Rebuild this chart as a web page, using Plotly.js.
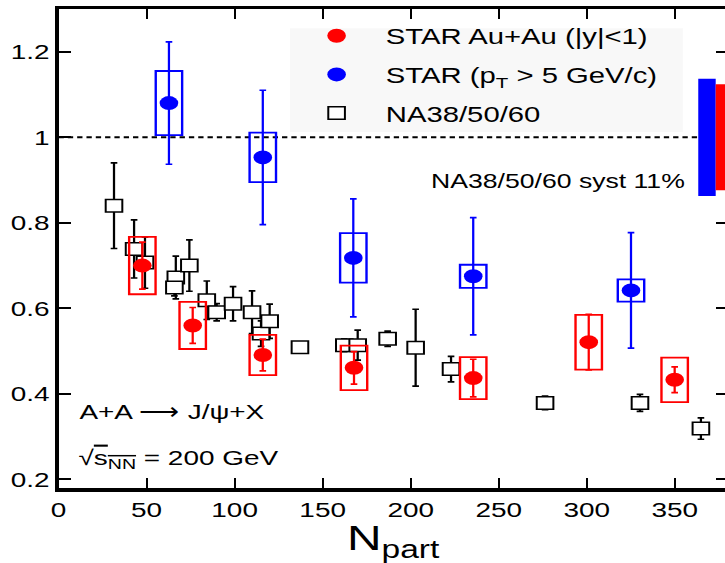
<!DOCTYPE html>
<html>
<head>
<meta charset="utf-8">
<script src="https://cdn.plot.ly/plotly-3.0.1.min.js"></script>
<style>
  html, body { margin: 0; padding: 0; overflow: hidden; background: #fff; }
  #wrap { width: 547px; height: 563px; transform: scaleX(1.3303); transform-origin: 0 0; }
</style>
</head>
<body>
<div id="wrap"><div id="chart" style="width:547px;height:563px;"></div></div>
<script>
// NA38/50/60
const naNpart = [31.5, 42.9, 49.1, 66.6, 65.8, 74.3, 84.2, 89.8, 99.1, 109.9, 115, 119.9, 137.1, 162.3, 169.9, 186.9, 202.8, 222.9, 276.3, 330.2, 364.8];
const naRatio = [0.840, 0.739, 0.707, 0.672, 0.649, 0.700, 0.619, 0.591, 0.611, 0.591, 0.541, 0.570, 0.509, 0.514, 0.514, 0.529, 0.508, 0.458, 0.379, 0.379, 0.319];
const naErr   = [0.10, 0.068, 0.06, 0.05, 0.02, 0.06, 0.045, 0.02, 0.04, 0.05, 0.03, 0.04, 0.01, 0.015, 0.035, 0.018, 0.09, 0.03, 0.016, 0.02, 0.025];

// STAR Au+Au (|y|<1)
const auNpart = [47.6, 76.2, 116, 167.8, 235.5, 301.1, 349.9];
const auRatio = [0.700, 0.560, 0.491, 0.461, 0.437, 0.521, 0.433];
const auStat  = [0.055, 0.042, 0.037, 0.038, 0.044, 0.065, 0.030];
const auSyst  = [0.067, 0.055, 0.047, 0.052, 0.049, 0.064, 0.052];

// STAR (pT > 5 GeV/c)
const hpNpart = [62.7, 116, 167.4, 235.5, 325.1];
const hpRatio = [1.080, 0.953, 0.718, 0.675, 0.642];
const hpStat  = [0.143, 0.157, 0.138, 0.137, 0.135];
const hpSyst  = [0.075, 0.058, 0.058, 0.027, 0.026];

// global normalisation uncertainties
const normHighPt = 0.137;
const normAuAu = 0.124;

const sysHalfWidth = 7.5;
const fontFam = '"Liberation Sans", Arial, Helvetica, sans-serif';
const RED = '#ff0000', BLUE = '#0000ff';

const shapes = [];
// faint legend background
shapes.push({type:'rect', xref:'paper', yref:'paper', x0:0.346, x1:0.933, y0:0.743, y1:0.960,
  line:{width:0}, fillcolor:'#f8f8f8', layer:'below'});
shapes.push({type:'line', xref:'x', yref:'y', x0:0, x1:363.3, y0:1, y1:1,
  line:{color:'black', width:2, dash:'4px,3px'}, layer:'below'});
auNpart.forEach((n,i)=>shapes.push({type:'rect', xref:'x', yref:'y',
  x0:n-sysHalfWidth, x1:n+sysHalfWidth, y0:auRatio[i]-auSyst[i], y1:auRatio[i]+auSyst[i],
  line:{color:RED, width:1.8}, fillcolor:'rgba(0,0,0,0)', layer:'above'}));
hpNpart.forEach((n,i)=>shapes.push({type:'rect', xref:'x', yref:'y',
  x0:n-sysHalfWidth, x1:n+sysHalfWidth, y0:hpRatio[i]-hpSyst[i], y1:hpRatio[i]+hpSyst[i],
  line:{color:BLUE, width:1.8}, fillcolor:'rgba(0,0,0,0)', layer:'above'}));
shapes.push({type:'rect', xref:'x', yref:'y', x0:363.3, x1:373.2, y0:1-normHighPt, y1:1+normHighPt,
  line:{width:0}, fillcolor:BLUE, layer:'above'});
shapes.push({type:'rect', xref:'x', yref:'y', x0:373.2, x1:383, y0:1-normAuAu, y1:1+normAuAu,
  line:{width:0}, fillcolor:RED, layer:'above'});

const traces = [
  {type:'scatter', mode:'markers', name:'NA38/50/60', x:naNpart, y:naRatio, legendrank:3,
   legendgroup:'c',
   error_y:{type:'data', array:naErr, visible:true, color:'black', thickness:1.7, width:2.5},
   marker:{symbol:'square', size:12.5, color:'white', line:{color:'black', width:1.5}}},
  {type:'scatter', mode:'markers', name:'STAR Au+Au (|y|&lt;1)', x:auNpart, y:auRatio, legendrank:1,
   legendgroup:'a',
   error_y:{type:'data', array:auStat, visible:true, color:RED, thickness:1.7, width:2.5},
   marker:{symbol:'circle', size:14, color:RED}},
  {type:'scatter', mode:'markers', name:'STAR (p<sub>T</sub> &gt; 5 GeV/c)', x:hpNpart, y:hpRatio, legendrank:2,
   legendgroup:'b',
   error_y:{type:'data', array:hpStat, visible:true, color:BLUE, thickness:1.7, width:2.5},
   marker:{symbol:'circle', size:14, color:BLUE}}
];

const layout = {
  width:547, height:563,
  margin:{l:44, r:0, t:9, b:75},
  paper_bgcolor:'white', plot_bgcolor:'white',
  font:{family:fontFam, color:'black', size:21},
  showlegend:true,
  legend:{x:0.342, y:0.9875, xanchor:'left', yanchor:'top', bgcolor:'rgba(0,0,0,0)', borderwidth:0,
          itemwidth:64, font:{size:22, family:fontFam}, tracegroupgap:7, traceorder:'grouped'},
  xaxis:{range:[0,380], dtick:50, tick0:0, ticks:'inside', ticklen:10, tickwidth:1.5, tickcolor:'black',
         showline:true, linewidth:3.5, linecolor:'black', mirror:'ticks', showgrid:false, zeroline:false,
         tickfont:{size:21}, title:{text:'N<sub>part</sub>', font:{size:36}, standoff:6}},
  yaxis:{range:[0.18,1.3], dtick:0.2, tick0:0.2, ticks:'inside', ticklen:9, tickwidth:2, tickcolor:'black',
         showline:true, linewidth:2.5, linecolor:'black', mirror:'ticks', showgrid:false, zeroline:false,
         tickfont:{size:21}},
  shapes:shapes,
  annotations:[
    {xref:'paper', yref:'paper', x:0.028, y:0.159, xanchor:'left', yanchor:'middle', showarrow:false,
     text:'A+A \u27f6 J/\u03c8+X', font:{size:21}},
    {xref:'paper', yref:'paper', x:0.026, y:0.06, xanchor:'left', yanchor:'middle', showarrow:false,
     text:'\u221a<span style="text-decoration:overline">s<sub>NN</sub></span> = 200 GeV', font:{size:21}},
    {xref:'paper', yref:'paper', x:0.941, y:0.6415, xanchor:'right', yanchor:'middle', showarrow:false,
     text:'NA38/50/60 syst 11%', font:{size:20}}
  ]
};

Plotly.newPlot('chart', traces, layout, {displayModeBar:false, staticPlot:true});
</script>
</body>
</html>
